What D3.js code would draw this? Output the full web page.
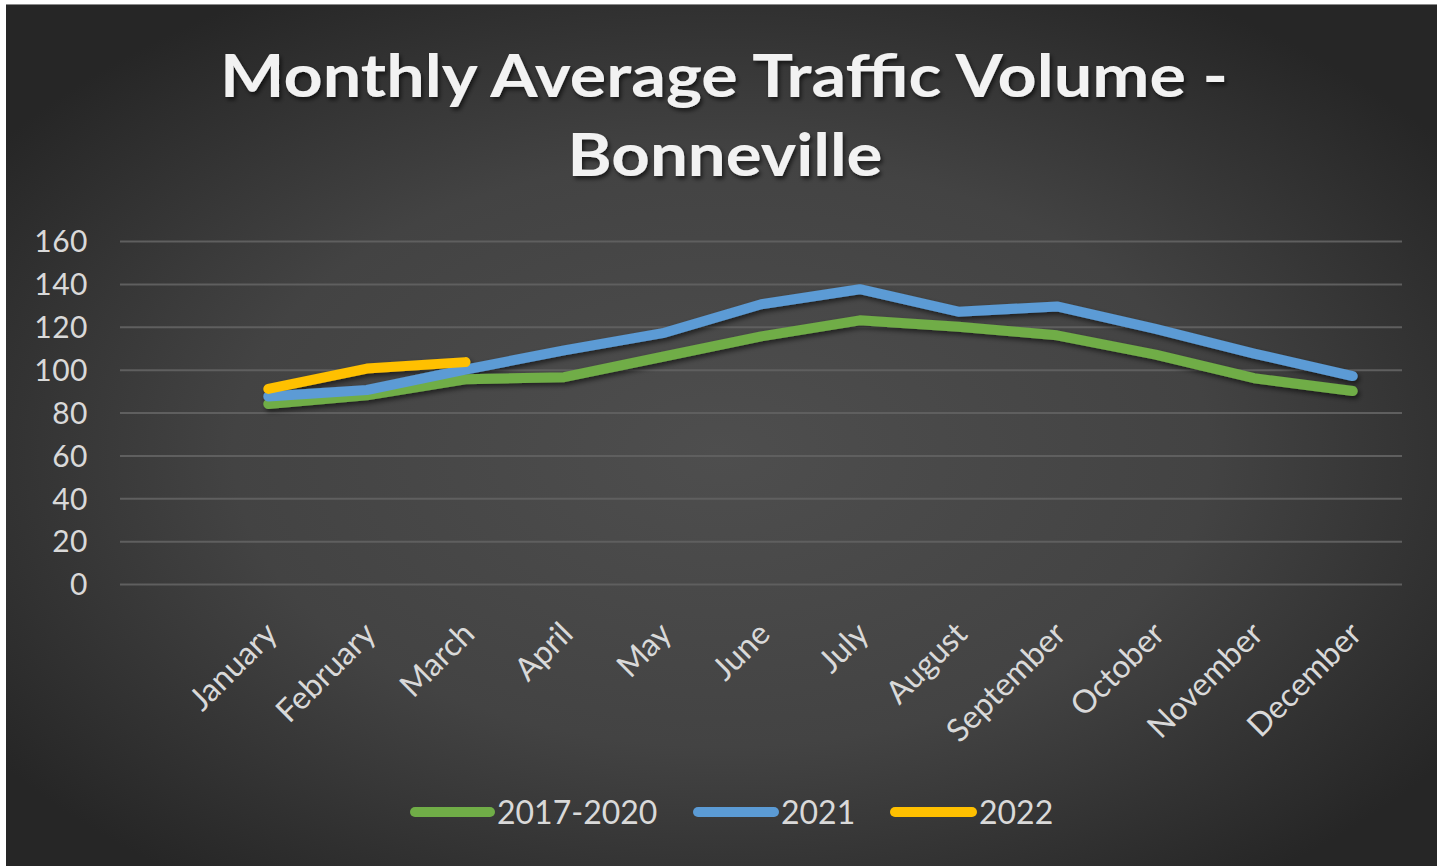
<!DOCTYPE html>
<html>
<head>
<meta charset="utf-8">
<script src="https://cdn.jsdelivr.net/npm/d3@7"></script>
<style>
  html, body { margin: 0; padding: 0; background: #ffffff; }
  svg { display: block; }
</style>
</head>
<body>
<svg id="chart" width="1437" height="866"></svg>
<script>
// data
const months = ['January', 'February', 'March', 'April', 'May', 'June', 'July',
  'August', 'September', 'October', 'November', 'December'];
const avg2017to2020 = [84, 88, 95.5, 96.5, 106, 115.5, 123, 120, 116, 107, 96, 90];
const y2021 = [87.5, 90.5, 100, 109, 117, 130.5, 137.5, 127, 129.5, 119, 107.5, 97];
const y2022 = [91, 100.5, 103.5];
const yTicks = [0, 20, 40, 60, 80, 100, 120, 140, 160];

const seriesList = [
  { name: '2017-2020', values: avg2017to2020, color: '#70ad47' },
  { name: '2021', values: y2021, color: '#5b9bd5' },
  { name: '2022', values: y2022, color: '#ffc000' }
];

const W = 1437, H = 866;
const font = 'Lato, "Open Sans", sans-serif';

const svg = d3.select('#chart');
const defs = svg.append('defs');

const grad = defs.append('radialGradient')
  .attr('id', 'bg')
  .attr('cx', '50%').attr('cy', '52%').attr('r', '62%');
grad.append('stop').attr('offset', '0%').attr('stop-color', '#4e4e4e');
grad.append('stop').attr('offset', '55%').attr('stop-color', '#434343');
grad.append('stop').attr('offset', '100%').attr('stop-color', '#262626');

const shadow = defs.append('filter').attr('id', 'shadow')
  .attr('x', '-10%').attr('y', '-30%').attr('width', '130%').attr('height', '180%');
shadow.append('feDropShadow')
  .attr('dx', 2).attr('dy', 3).attr('stdDeviation', 2.5)
  .attr('flood-color', '#000').attr('flood-opacity', 0.55);

const tshadow = defs.append('filter').attr('id', 'tshadow')
  .attr('x', '-5%').attr('y', '-20%').attr('width', '110%').attr('height', '150%');
tshadow.append('feDropShadow')
  .attr('dx', 2).attr('dy', 3).attr('stdDeviation', 2)
  .attr('flood-color', '#000').attr('flood-opacity', 0.6);

// chart area
svg.append('rect')
  .attr('x', 6).attr('y', 4)
  .attr('width', W - 6).attr('height', H - 4)
  .attr('fill', 'url(#bg)');
svg.append('line')
  .attr('x1', 6).attr('x2', W).attr('y1', 4.5).attr('y2', 4.5)
  .attr('stroke', '#8a8a8a').attr('stroke-width', 1);

// title
const title = svg.append('g').attr('filter', 'url(#tshadow)')
  .attr('font-family', font).attr('font-weight', 700)
  .attr('fill', '#f2f2f2').attr('text-anchor', 'middle');
title.append('text')
  .attr('x', 724).attr('y', 97)
  .attr('font-size', 60)
  .attr('textLength', 1008).attr('lengthAdjust', 'spacingAndGlyphs')
  .text('Monthly Average Traffic Volume -');
title.append('text')
  .attr('x', 725).attr('y', 176)
  .attr('font-size', 60)
  .attr('textLength', 315).attr('lengthAdjust', 'spacingAndGlyphs')
  .text('Bonneville');

// scales
const x = d3.scaleBand().domain(months).range([219, 1402]);
const cx = m => x(m) + x.bandwidth() / 2;
const y = d3.scaleLinear().domain([0, 160]).range([584, 241]);

// gridlines
const gridX0 = 120, gridX1 = 1402;
svg.append('g')
  .attr('transform', `translate(${gridX0},0)`)
  .call(d3.axisLeft(y).tickValues(yTicks).tickSize(-(gridX1 - gridX0)).tickFormat(''))
  .call(g => g.select('.domain').remove())
  .call(g => g.selectAll('line').attr('stroke', '#5f5f5f').attr('stroke-width', 2));

// y axis labels
svg.append('g')
  .attr('transform', 'translate(88,0)')
  .call(d3.axisLeft(y).tickValues(yTicks).tickSize(0).tickPadding(0))
  .call(g => g.select('.domain').remove())
  .call(g => g.selectAll('text')
    .attr('font-family', font).attr('font-size', 30)
    .attr('letter-spacing', 0.5)
    .attr('fill', '#d9d9d9').attr('dy', '0.36em'));

// x axis labels
svg.append('g')
  .selectAll('text')
  .data(months)
  .join('text')
  .attr('transform', d => `translate(${cx(d) - 5},${620}) rotate(-45)`)
  .attr('text-anchor', 'end')
  .attr('font-family', font).attr('font-size', 32)
  .attr('fill', '#d9d9d9')
  .attr('dy', '0.7em')
  .text(d => d);

// lines
const line = d3.line()
  .x((d, i) => cx(months[i]))
  .y(d => y(d));

svg.append('g').attr('filter', 'url(#shadow)')
  .selectAll('path')
  .data(seriesList)
  .join('path')
  .attr('d', d => line(d.values))
  .attr('fill', 'none')
  .attr('stroke', d => d.color)
  .attr('stroke-width', 10)
  .attr('stroke-linecap', 'round')
  .attr('stroke-linejoin', 'round');

// legend
const legendItems = [
  { x0: 415, x1: 490, tx: 497 },
  { x0: 698, x1: 774, tx: 781 },
  { x0: 895, x1: 972, tx: 979 }
];
const legend = svg.append('g');
seriesList.forEach((s, i) => {
  const it = legendItems[i];
  legend.append('line')
    .attr('x1', it.x0).attr('x2', it.x1)
    .attr('y1', 812).attr('y2', 812)
    .attr('stroke', s.color).attr('stroke-width', 10)
    .attr('stroke-linecap', 'round');
  legend.append('text')
    .attr('x', it.tx).attr('y', 812)
    .attr('dy', '0.36em')
    .attr('font-family', font).attr('font-size', 32)
    .attr('fill', '#d9d9d9')
    .text(s.name);
});
</script>
</body>
</html>
